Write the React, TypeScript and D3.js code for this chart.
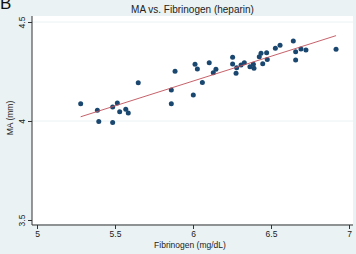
import React, { useEffect, useRef } from 'react';
import * as d3 from 'd3';

// fibrinogen (mg/dL) and MA (mm)
const fibrinogen = [
    5.28, 5.387, 5.396, 5.485, 5.485, 5.515, 5.53, 5.569, 5.585, 5.649,
    5.861, 5.861, 5.885, 6.002, 6.013, 6.028, 6.06, 6.104, 6.13, 6.147,
    6.254, 6.254, 6.276, 6.28, 6.308, 6.329, 6.365, 6.387, 6.391, 6.425,
    6.436, 6.447, 6.472, 6.476, 6.528, 6.558, 6.643, 6.658, 6.658, 6.692,
    6.724, 6.917,
];
const ma = [
    4.087, 4.054, 3.997, 4.071, 3.993, 4.091, 4.047, 4.059, 4.04, 4.193,
    4.087, 4.157, 4.251, 4.131, 4.286, 4.263, 4.195, 4.294, 4.244, 4.261,
    4.322, 4.288, 4.241, 4.269, 4.283, 4.294, 4.274, 4.286, 4.266, 4.325,
    4.342, 4.289, 4.345, 4.31, 4.367, 4.382, 4.404, 4.35, 4.308, 4.364,
    4.359, 4.362,
];
const xTicks = [5, 5.5, 6, 6.5, 7];
const yTicks = [3.5, 4, 4.5];

const Chart = () => {
    const ref = useRef<SVGSVGElement>(null);

    useEffect(() => {
        const width = 356;
        const height = 254;
        const plot = { left: 32, right: 353, top: 16, bottom: 224 };
        const font = '"Liberation Sans", Arial, sans-serif';

        const svg = d3.select(ref.current);
        svg.selectAll('*').remove();

        const x = d3.scaleLinear().domain([5, 7]).range([37, 349]);
        const y = d3.scaleLinear().domain([3.5, 4.5]).range([220, 22]);

        // graph region + plot region
        svg.append('rect')
            .attr('width', width)
            .attr('height', height)
            .attr('fill', '#eaf2f3');
        svg.append('rect')
            .attr('x', plot.left)
            .attr('y', plot.top)
            .attr('width', plot.right - plot.left)
            .attr('height', plot.bottom - plot.top)
            .attr('fill', '#ffffff');

        // gridlines
        svg.append('g')
            .selectAll('line')
            .data(yTicks.slice(1))
            .join('line')
            .attr('x1', plot.left)
            .attr('x2', plot.right)
            .attr('y1', (d) => y(d))
            .attr('y2', (d) => y(d))
            .attr('stroke', '#eaf2f3')
            .attr('stroke-width', 1);

        // y axis
        const yAxis = svg.append('g')
            .attr('transform', `translate(${plot.left},0)`)
            .call(d3.axisLeft(y).tickValues(yTicks).tickSize(4).tickFormat(d3.format('')));
        yAxis.select('.domain').remove();
        yAxis.append('line')
            .attr('y1', plot.top)
            .attr('y2', plot.bottom + 1)
            .attr('stroke', '#333');
        yAxis.selectAll('.tick line').attr('stroke', '#333');
        yAxis.selectAll('.tick text')
            .attr('x', null)
            .attr('dy', null)
            .attr('transform', 'translate(-7,0) rotate(-90)')
            .attr('text-anchor', 'middle')
            .attr('font-family', font)
            .attr('font-size', 8.5)
            .attr('fill', '#222');

        // x axis
        const xAxis = svg.append('g')
            .attr('transform', `translate(0,${plot.bottom + 1})`)
            .call(d3.axisBottom(x).tickValues(xTicks).tickSize(4).tickFormat(d3.format('')));
        xAxis.select('.domain').remove();
        xAxis.append('line')
            .attr('x1', plot.left)
            .attr('x2', plot.right)
            .attr('stroke', '#333');
        xAxis.selectAll('.tick line').attr('stroke', '#333');
        xAxis.selectAll('.tick text')
            .attr('y', 6)
            .attr('font-family', font)
            .attr('font-size', 8.5)
            .attr('fill', '#222');

        // points
        svg.append('g')
            .selectAll('circle')
            .data(fibrinogen)
            .join('circle')
            .attr('cx', (d) => x(d))
            .attr('cy', (d, i) => y(ma[i]))
            .attr('r', 2.5)
            .attr('fill', '#1a476f');

        // linear fit over the data range
        const mx = d3.mean(fibrinogen) as number;
        const my = d3.mean(ma) as number;
        const sxy = d3.sum(fibrinogen, (d, i) => (d - mx) * (ma[i] - my));
        const sxx = d3.sum(fibrinogen, (d) => (d - mx) ** 2);
        const slope = sxy / sxx;
        const intercept = my - slope * mx;
        const ends = d3.extent(fibrinogen) as [number, number];
        svg.append('path')
            .datum(ends)
            .attr('d', d3.line<number>()
                .x((d) => x(d))
                .y((d) => y(intercept + slope * d)))
            .attr('fill', 'none')
            .attr('stroke', '#c0505a')
            .attr('stroke-width', 0.9);

        // titles
        svg.append('text')
            .attr('x', 192.5)
            .attr('y', 13)
            .attr('text-anchor', 'middle')
            .attr('font-family', font)
            .attr('font-size', 10)
            .attr('fill', '#222')
            .text('MA vs. Fibrinogen (heparin)');
        svg.append('text')
            .attr('x', 190)
            .attr('y', 248)
            .attr('text-anchor', 'middle')
            .attr('font-family', font)
            .attr('font-size', 8.5)
            .attr('fill', '#222')
            .text('Fibrinogen (mg/dL)');
        svg.append('text')
            .attr('transform', 'translate(13,118) rotate(-90)')
            .attr('text-anchor', 'middle')
            .attr('font-family', font)
            .attr('font-size', 8.5)
            .attr('fill', '#222')
            .text('MA (mm)');

        // panel letter
        svg.append('text')
            .attr('x', 0)
            .attr('y', 9)
            .attr('font-family', font)
            .attr('font-size', 17)
            .attr('fill', '#111')
            .text('B');
    }, []);

    return (
        <svg
            ref={ref}
            width={356}
            height={254}
            style={{ position: 'absolute', left: 0, top: 0 }}
        />
    );
};

export default function App() {
    return <Chart />;
}
